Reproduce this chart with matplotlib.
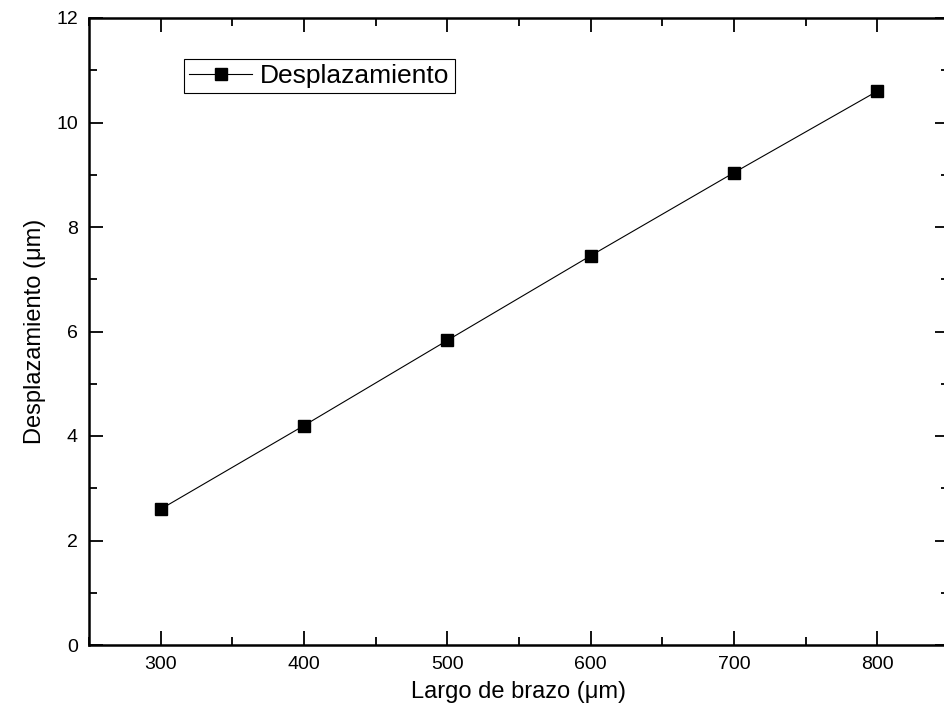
import matplotlib.pyplot as plt
from matplotlib.ticker import MultipleLocator

plt.rcParams['font.family'] = ['Liberation Sans', 'DejaVu Sans']

largo = [300, 400, 500, 600, 700, 800]
desplazamiento = [2.6, 4.2, 5.83, 7.45, 9.04, 10.6]

fig = plt.figure(figsize=(9.45, 7.26), dpi=100)
ax = fig.add_axes([89 / 945, 1 - 645 / 726, 860 / 945, (645 - 18) / 726])

ax.plot(largo, desplazamiento, color='black', linewidth=0.8, marker='s',
        markersize=9, label='Desplazamiento')

ax.set_xlim(250, 850)
ax.set_ylim(0, 12)
ax.xaxis.set_major_locator(MultipleLocator(100))
ax.xaxis.set_minor_locator(MultipleLocator(50))
ax.yaxis.set_major_locator(MultipleLocator(2))
ax.yaxis.set_minor_locator(MultipleLocator(1))
ax.tick_params(which='both', direction='in', top=True, right=True, width=1.3,
               labelsize=14, pad=8)
ax.tick_params(which='major', length=10)
ax.tick_params(which='minor', length=6)
for s in ax.spines.values():
    s.set_linewidth(1.8)

ax.set_xlabel('Largo de brazo (\u03bcm)', fontsize=17, labelpad=6)
ax.set_ylabel('Desplazamiento (\u03bcm)', fontsize=17, labelpad=7)

leg = ax.legend(loc='upper left', bbox_to_anchor=(0.11, 0.935), fontsize=19,
                fancybox=False, edgecolor='black', framealpha=1,
                handlelength=2.4, handletextpad=0.3, borderpad=0.2,
                borderaxespad=0)
leg.get_frame().set_linewidth(0.8)

fig.savefig('out.png', dpi=100)
